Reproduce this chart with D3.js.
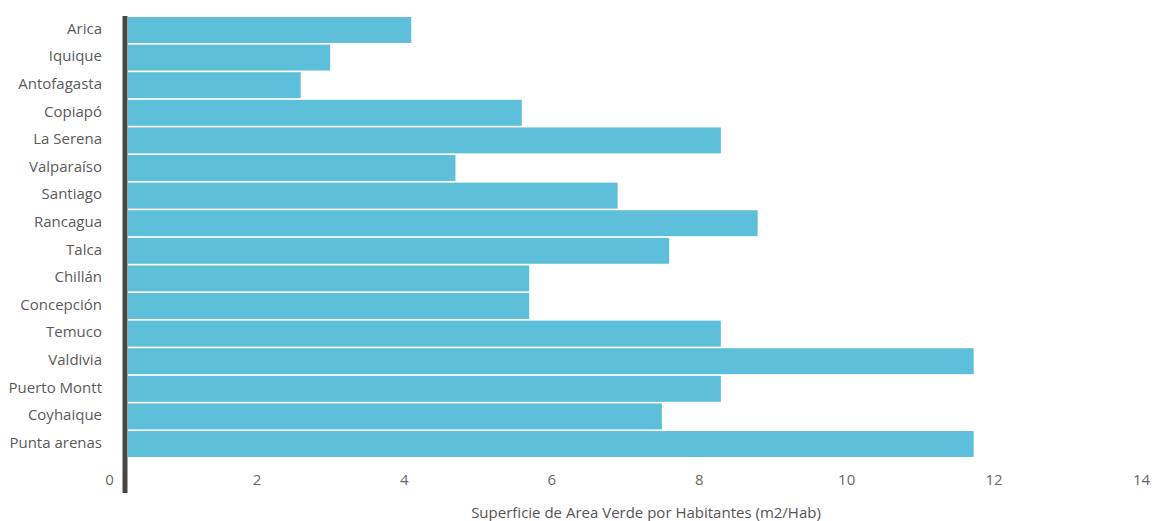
<!DOCTYPE html>
<html>
<head>
<meta charset="utf-8">
<script src="https://cdn.jsdelivr.net/npm/d3@7"></script>
<style>
  body { margin: 0; background: #fff; }
  text { font-family: "Open Sans", "Noto Sans", sans-serif; }
</style>
</head>
<body>
<script>
const width = 1152;
const height = 521;
const margin = { top: 17, right: 11, bottom: 63, left: 109 };

const cities = ["Arica", "Iquique", "Antofagasta", "Copiapó", "La Serena", "Valparaíso", "Santiago",
  "Rancagua", "Talca", "Chillán", "Concepción", "Temuco", "Valdivia", "Puerto Montt", "Coyhaique", "Punta arenas"];
const areaVerde = [4.1, 3.0, 2.6, 5.6, 8.3, 4.7, 6.9, 8.8, 7.6, 5.7, 5.7, 8.3, 11.73, 8.3, 7.5, 11.73];
const xTicks = [0, 2, 4, 6, 8, 10, 12, 14];
const xTitle = "Superficie de Area Verde por Habitantes (m2/Hab)";

const axisGap = 19; // bars start just right of the thick axis line

const svg = d3.select("body").append("svg")
  .attr("width", width)
  .attr("height", height);

const x = d3.scaleLinear()
  .domain([0, 14])
  .range([margin.left, width - margin.right]);

const y = d3.scaleBand()
  .domain(cities)
  .range([margin.top, margin.top + 16 * 27.5])
  .paddingInner(0.06);

// bars
svg.selectAll("rect.bar")
  .data(cities)
  .enter()
  .append("rect")
  .attr("class", "bar")
  .attr("x", x(0) + axisGap)
  .attr("y", d => y(d))
  .attr("width", (d, i) => x(areaVerde[i]) - x(0) - axisGap)
  .attr("height", y.bandwidth())
  .attr("fill", "#5dbfd9");

// city labels
const yAxis = d3.axisLeft(y).tickSize(0).tickPadding(0);
const gy = svg.append("g")
  .attr("transform", `translate(${margin.left - 7}, -1)`)
  .call(yAxis);
gy.select(".domain").remove();
gy.selectAll("text")
  .attr("fill", "#5a5a5a")
  .attr("font-size", "15px")
  .attr("font-family", "'Open Sans', sans-serif")
  .attr("textLength", null);

// thick vertical axis line
svg.append("line")
  .attr("x1", x(0) + 16)
  .attr("x2", x(0) + 16)
  .attr("y1", margin.top - 1)
  .attr("y2", 493)
  .attr("stroke", "#464646")
  .attr("stroke-width", 5);

// x tick labels
const xAxis = d3.axisBottom(x).tickValues(xTicks).tickSize(0).tickPadding(0);
const gx = svg.append("g")
  .attr("transform", `translate(0, 474)`)
  .call(xAxis);
gx.select(".domain").remove();
gx.selectAll("text")
  .attr("fill", "#666")
  .attr("font-size", "15px")
  .attr("font-family", "'Open Sans', sans-serif");

svg.append("text")
  .attr("x", 646)
  .attr("y", 518)
  .attr("text-anchor", "middle")
  .attr("fill", "#555")
  .attr("font-size", "15px")
  .text(xTitle);
</script>
</body>
</html>
